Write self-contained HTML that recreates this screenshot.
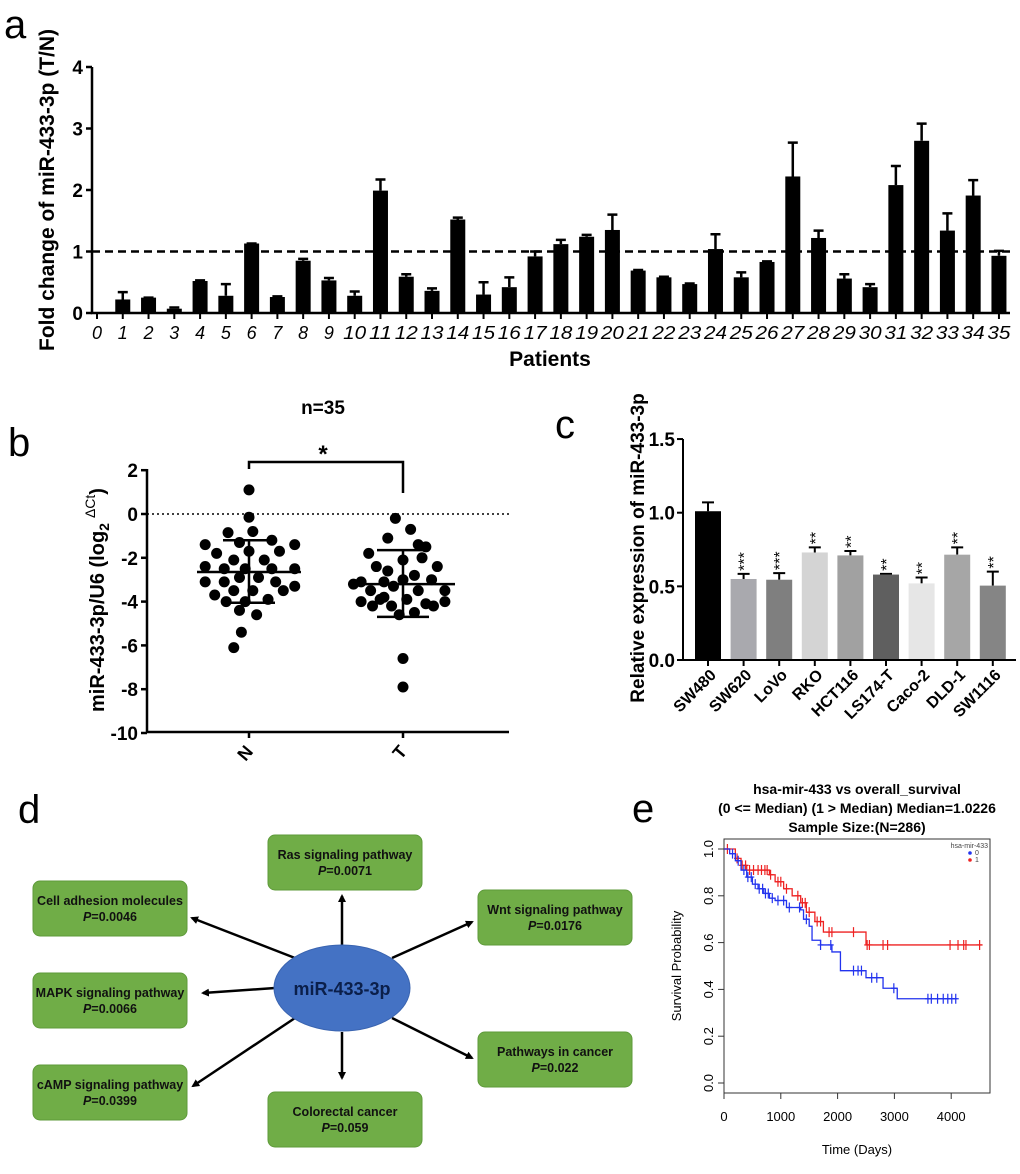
<!DOCTYPE html>
<html><head><meta charset="utf-8"><style>
body{margin:0;background:#fff}
svg{display:block;font-family:"Liberation Sans",sans-serif}
</style></head><body>
<svg id="fig" width="1020" height="1174" viewBox="0 0 1020 1174">
<text x="4" y="38" font-size="40">a</text>
<text x="8" y="456" font-size="40">b</text>
<text x="555" y="438" font-size="40">c</text>
<text x="18" y="823" font-size="40">d</text>
<text x="632" y="822" font-size="40">e</text>
<g id="pa"></g>
<g id="pb"></g>
<g id="pc"></g>
<g id="pd"></g>
<g id="pe"></g>
</svg>
<script>
// Panel a data
const aPatients=[1,2,3,4,5,6,7,8,9,10,11,12,13,14,15,16,17,18,19,20,21,22,23,24,25,26,27,28,29,30,31,32,33,34,35];
const aValues=[0.22,0.25,0.07,0.52,0.28,1.13,0.26,0.85,0.53,0.28,1.99,0.59,0.36,1.52,0.30,0.42,0.92,1.12,1.24,1.35,0.69,0.58,0.47,1.04,0.58,0.83,2.22,1.22,0.56,0.42,2.08,2.80,1.34,1.91,0.93];
const aErrTop=[0.34,0.25,0.09,0.53,0.47,1.13,0.27,0.88,0.57,0.35,2.17,0.63,0.40,1.55,0.50,0.58,1.00,1.19,1.27,1.60,0.70,0.59,0.48,1.28,0.66,0.84,2.77,1.34,0.63,0.47,2.39,3.08,1.62,2.16,1.01];
const aYTicks=[0,1,2,3,4];
// Panel b data
const bNvals=[1.1,-0.15,-0.85,-0.8,-1.4,-1.3,-1.2,-1.4,-1.8,-1.7,-1.7,-2.1,-2.1,-2.4,-2.5,-2.5,-2.5,-2.5,-2.9,-2.9,-3.1,-3.1,-3.1,-3.3,-3.5,-3.5,-3.5,-4.0,-4.0,-3.9,-4.4,-4.6,-5.4,-6.1,-3.7];
const bNjit=[0,0,-22,4,-46,-10,24,48,-34,0,32,-16,16,-46,-26,-4,24,48,-10,10,-46,-26,28,48,-16,4,36,-24,-4,20,-10,8,-8,-16,-36];
const bTvals=[-0.2,-0.7,-1.1,-1.4,-1.5,-1.8,-2.1,-2.4,-2.4,-2.6,-2.8,-3.1,-3.1,-3.0,-3.0,-3.5,-3.3,-3.5,-3.5,-4.0,-3.8,-3.9,-4.1,-4.0,-4.2,-4.2,-4.5,-4.2,-4.6,-6.6,-7.9,-3.9,-3.2,-2.0];
const bTjit=[-8,8,-16,16,24,-36,0,-28,36,-16,12,-44,-20,0,30,-34,-10,16,44,-44,-20,4,24,44,-32,-12,12,32,-4,0,0,-24,-52,20];
const bStats=[{mean:-2.65,hi:-1.2,lo:-4.05},{mean:-3.2,hi:-1.65,lo:-4.7}];
const bYTicks=[2,0,-2,-4,-6,-8,-10];
// Panel c data
const cLines=["SW480","SW620","LoVo","RKO","HCT116","LS174-T","Caco-2","DLD-1","SW1116"];
const cValues=[1.01,0.55,0.545,0.73,0.71,0.58,0.52,0.715,0.505];
const cErrTop=[1.07,0.585,0.59,0.765,0.74,0.585,0.56,0.765,0.60];
const cStars=["","***","***","**","**","**","**","**","**"];
const cYTicks=["0.0","0.5","1.0","1.5"];
// Panel e data
const eBlueT=[0,100,200,300,400,500,600,700,800,900,1100,1350,1400,1500,1550,1700,1900,2050,2500,2800,3050,4100];
const eBlueS=[1,0.98,0.95,0.91,0.88,0.85,0.83,0.81,0.79,0.78,0.75,0.74,0.70,0.67,0.61,0.59,0.56,0.48,0.45,0.405,0.36,0.36];
const eRedT=[0,200,300,400,800,900,1050,1200,1350,1450,1600,1750,2500,4550];
const eRedS=[1,0.96,0.93,0.91,0.89,0.86,0.83,0.80,0.77,0.73,0.69,0.645,0.59,0.59];
const eBlueCens=[150,250,350,420,480,550,620,680,730,780,850,950,1050,1150,1330,1450,1700,1880,2280,2360,2420,2600,2690,2990,3590,3650,3760,3860,3940,4010,4080];
const eRedCens=[60,230,320,380,450,520,600,660,720,760,820,950,1000,1100,1300,1380,1430,1500,1640,1700,1850,1900,2280,2520,2560,2800,2880,3980,4120,4220,4260,4500];
const eXTicks=[0,1000,2000,3000,4000];
const eYTicks=["0.0","0.2","0.4","0.6","0.8","1.0"];

const NS="http://www.w3.org/2000/svg";
function mk(parent,tag,attrs,txt){const e=document.createElementNS(NS,tag);for(const k in attrs)e.setAttribute(k,attrs[k]);if(txt!==undefined)e.textContent=txt;parent.appendChild(e);return e;}

// ---------- Panel a ----------
(function(){
const g=document.getElementById('pa');
const x0=97,dx=25.77,yA=v=>313-v*61.5;
const ax=mk(g,'path',{d:'M92,67 V313 H1010',stroke:'#000','stroke-width':2.5,fill:'none'});


aYTicks.forEach(t=>{
 const l=mk(g,'line',{x1:86,x2:92,y1:yA(t),y2:yA(t),stroke:'#000','stroke-width':2.5});
 
 
 const tx=mk(g,'text',{x:83,y:yA(t)+7,'font-size':19,'font-weight':'bold','text-anchor':'end'},t);
 
 
});
for(let i=0;i<=35;i++){
 const x=x0+dx*i;
 const l=mk(g,'line',{x1:x,x2:x,y1:313,y2:319,stroke:'#000','stroke-width':2});
 
 
 const tx=mk(g,'text',{x:x,y:339,'font-size':18,'font-style':'italic','text-anchor':'middle',textLength:i>9?23:10,lengthAdjust:'spacingAndGlyphs'},String(i));
 
 
}
aPatients.forEach((p,i)=>{
 const x=x0+dx*p;
 const e=mk(g,'path',{d:`M${x},${yA(aValues[i])} V${yA(aErrTop[i])} M${x-5},${yA(aErrTop[i])} H${x+5}`,stroke:'#000','stroke-width':2.5,fill:'none'});
 
 
 const b=mk(g,'rect',{x:x-7.5,y:yA(aValues[i]),width:15,height:313-yA(aValues[i]),fill:'#000'});
 
 
});
const d=mk(g,'line',{x1:92,x2:1010,y1:yA(1),y2:yA(1),stroke:'#000','stroke-width':2.5,'stroke-dasharray':'8,5'});


const yl=mk(g,'text',{transform:'translate(54,190) rotate(-90)','font-size':21,'font-weight':'bold','text-anchor':'middle'},'Fold change of miR-433-3p (T/N)');


const xl=mk(g,'text',{x:550,y:366,'font-size':21,'font-weight':'bold','text-anchor':'middle'},'Patients');


})();

// ---------- Panel b ----------
(function(){
const g=document.getElementById('pb');
const yB=v=>514-v*21.9, cx=[249,403];
const ax=mk(g,'path',{d:'M147,469 V732 H509',stroke:'#000','stroke-width':2.5,fill:'none'});


bYTicks.forEach(t=>{
 const l=mk(g,'line',{x1:141,x2:147,y1:yB(t),y2:yB(t),stroke:'#000','stroke-width':2.5});
 
 
 const tx=mk(g,'text',{x:138,y:yB(t)+7,'font-size':19,'font-weight':'bold','text-anchor':'end'},String(t));
 
 
});
const z=mk(g,'line',{x1:147,x2:509,y1:yB(0),y2:yB(0),stroke:'#000','stroke-width':1.5,'stroke-dasharray':'2,3'});


[['N',bNvals,bNjit],['T',bTvals,bTjit]].forEach(([lab,vals,jit],k)=>{
 vals.forEach((v,i)=>{
  const c=mk(g,'ellipse',{cx:cx[k]+jit[i]/1.05,cy:yB(v),rx:5.5,ry:5.5,fill:'#000'});
  
  
 });
 const s=bStats[k];
 const m=mk(g,'path',{d:`M${cx[k]-52},${yB(s.mean)} H${cx[k]+52} M${cx[k]},${yB(s.hi)} V${yB(s.lo)} M${cx[k]-26},${yB(s.hi)} H${cx[k]+26} M${cx[k]-26},${yB(s.lo)} H${cx[k]+26}`,stroke:'#000','stroke-width':2.5,fill:'none'});
 
 
 const tk=mk(g,'line',{x1:cx[k],x2:cx[k],y1:732,y2:738,stroke:'#000','stroke-width':2.5});
 
 
 const tl=mk(g,'text',{transform:`translate(${cx[k]+5},${752}) rotate(-50)`,'font-size':18,'font-weight':'bold','text-anchor':'end'},lab);
 
 
});
const br=mk(g,'path',{d:'M249,469 V462 H403 V493',stroke:'#000','stroke-width':2.5,fill:'none'});


const st=mk(g,'text',{x:323,y:462,'font-size':24,'font-weight':'bold','text-anchor':'middle'},'*');


const tt=mk(g,'text',{x:323,y:414,'font-size':19,'font-weight':'bold','text-anchor':'middle'},'n=35');


const yl=mk(g,'text',{transform:'translate(104,600) rotate(-90)','font-size':20,'font-weight':'bold','text-anchor':'middle'});


mk(yl,'tspan',{},'miR-433-3p/U6 (log');
mk(yl,'tspan',{'font-size':14,dy:5},'2');
mk(yl,'tspan',{'font-size':14,dy:-14,dx:5,'font-weight':'normal'},'\u0394Ct');
mk(yl,'tspan',{dy:9},')');
})();

// ---------- Panel c ----------
(function(){
const g=document.getElementById('pc');
const yC=v=>660-v*147.3, x0=708, dx=35.6;
const colors=['#000','#a9a9ae','#7f7f7f','#d4d4d4','#a1a1a1','#5f5f5f','#e6e6e6','#a6a6a6','#858585'];
cLines.forEach((n,i)=>{
 const x=x0+dx*i;
 const e=mk(g,'path',{d:`M${x},${yC(cValues[i])} V${yC(cErrTop[i])} M${x-6},${yC(cErrTop[i])} H${x+6}`,stroke:'#000','stroke-width':2,fill:'none'});
 
 
 const b=mk(g,'rect',{x:x-13,y:yC(cValues[i]),width:26,height:660-yC(cValues[i]),fill:colors[i]});
 
 
 if(cStars[i]){
  const s=mk(g,'text',{transform:`translate(${x+6},${yC(cErrTop[i])-3}) rotate(-90)`,'font-size':16,'letter-spacing':'0'},cStars[i]);
  
  
 }
 const tk=mk(g,'line',{x1:x,x2:x,y1:660,y2:666,stroke:'#000','stroke-width':2});
 
 
 const tl=mk(g,'text',{transform:`translate(${x+9},${676}) rotate(-45)`,'font-size':16,'font-weight':'bold','text-anchor':'end'},n);
 
 
});
const ax=mk(g,'path',{d:'M683,439 V660 H1016',stroke:'#000','stroke-width':2,fill:'none'});


cYTicks.forEach(t=>{
 const v=parseFloat(t);
 const l=mk(g,'line',{x1:677,x2:683,y1:yC(v),y2:yC(v),stroke:'#000','stroke-width':2});
 
 
 const tx=mk(g,'text',{x:675,y:yC(v)+7,'font-size':19,'font-weight':'bold','text-anchor':'end'},t);
 
 
});
const yl=mk(g,'text',{transform:'translate(644,548) rotate(-90)','font-size':19,'font-weight':'bold','text-anchor':'middle'},'Relative expression of miR-433-3p');


})();

// ---------- Panel d ----------
(function(){
const g=document.getElementById('pd');
const defs=mk(g,'defs',{});
const mkr=mk(defs,'marker',{id:'arr',markerWidth:8,markerHeight:8,refX:6,refY:4,orient:'auto',markerUnits:'userSpaceOnUse'});
mk(mkr,'path',{d:'M0,0 L8,4 L0,8 Z',fill:'#000'});
const arrows=[[342,945,342,896],[295,958,192,918],[392,958,472,922],[275,988,203,993],[392,1018,472,1058],[295,1018,193,1086],[342,1032,342,1078]];
arrows.forEach(a=>{
 const l=mk(g,'line',{x1:a[0],y1:a[1],x2:a[2],y2:a[3],stroke:'#000','stroke-width':2.5,'marker-end':'url(#arr)'});
 
 
});
const boxes=[[268,835,'Ras signaling pathway','0.0071'],[33,881,'Cell adhesion molecules','0.0046'],[478,890,'Wnt signaling pathway','0.0176'],[33,973,'MAPK signaling pathway','0.0066'],[478,1032,'Pathways in cancer','0.022'],[33,1065,'cAMP signaling pathway','0.0399'],[268,1092,'Colorectal cancer','0.059']];
boxes.forEach(b=>{
 const r=mk(g,'rect',{x:b[0],y:b[1],width:154,height:55,rx:7,fill:'#70ad47',stroke:'#5e9a3a','stroke-width':1});
 
 
 const t=mk(g,'text',{x:b[0]+77,y:b[1]+24,'font-size':12.5,'font-weight':'bold','text-anchor':'middle',fill:'#111'},b[2]);
 
 
 const p=mk(g,'text',{x:b[0]+77,y:b[1]+40,'font-size':12.5,'font-weight':'bold','text-anchor':'middle',fill:'#111'});
 
 
 mk(p,'tspan',{'font-style':'italic'},'P');
 mk(p,'tspan',{},'='+b[3]);
});
const el=mk(g,'ellipse',{cx:342,cy:988,rx:68,ry:43,fill:'#4472c4',stroke:'#3a64b0'});


const et=mk(g,'text',{x:342,y:995,'font-size':18,'font-weight':'bold','text-anchor':'middle',fill:'#0b1f4a'},'miR-433-3p');


})();

// ---------- Panel e ----------
(function(){
const g=document.getElementById('pe');
const xE=t=>724+t*0.0568, yE=s=>1083-s*234;
['hsa-mir-433 vs overall_survival','(0 <= Median) (1 > Median) Median=1.0226','Sample Size:(N=286)'].forEach((s,i)=>{
 const t=mk(g,'text',{x:857,y:794+i*19,'font-size':14,'font-weight':'bold','text-anchor':'middle'},s);
 
 
});
const box=mk(g,'rect',{x:724,y:839,width:266,height:254,fill:'none',stroke:'#333','stroke-width':1});


eXTicks.forEach(t=>{
 const l=mk(g,'line',{x1:xE(t),x2:xE(t),y1:1093,y2:1099,stroke:'#333'});
 
 
 const tx=mk(g,'text',{x:xE(t),y:1121,'font-size':13,'text-anchor':'middle'},String(t));
 
 
});
eYTicks.forEach(t=>{
 const v=parseFloat(t);
 const l=mk(g,'line',{x1:718,x2:724,y1:yE(v),y2:yE(v),stroke:'#333'});
 
 
 const tx=mk(g,'text',{transform:`translate(713,${yE(v)}) rotate(-90)`,'font-size':13,'text-anchor':'middle'},t);
 
 
});
const xl=mk(g,'text',{x:857,y:1154,'font-size':13,'text-anchor':'middle'},'Time (Days)');


const yl=mk(g,'text',{transform:'translate(681,966) rotate(-90)','font-size':13,'text-anchor':'middle'},'Survival Probability');


function step(T,S){let d=`M${xE(T[0])},${yE(S[0])}`;for(let i=1;i<T.length;i++){d+=` H${xE(T[i])} V${yE(S[i])}`;}return d;}
function survAt(T,S,t){let s=S[0];for(let i=0;i<T.length;i++){if(T[i]<=t)s=S[i];}return s;}
[[eRedT,eRedS,eRedCens,'#ee2222','red'],[eBlueT,eBlueS,eBlueCens,'#2233ee','blue']].forEach(([T,S,C,col,nm])=>{
 const p=mk(g,'path',{d:step(T,S),stroke:col,'stroke-width':1.3,fill:'none'});
 
 
 C.forEach(c=>{
  const x=xE(c),y=yE(survAt(T,S,c));
  const m=mk(g,'path',{d:`M${x},${y-5} V${y+5} M${x-3},${y} H${x+3}`,stroke:col,'stroke-width':1.2});
  
  
 });
});
const lt=mk(g,'text',{x:988,y:848,'font-size':7,'text-anchor':'end',fill:'#444'},'hsa-mir-433');


[['0','#2233ee',855],['1','#ee2222',862]].forEach(([l,c,y])=>{
 const d=mk(g,'circle',{cx:970,cy:y-2,r:1.8,fill:c});
 
 
 const t=mk(g,'text',{x:975,y:y,'font-size':7,fill:'#444'},l);
 
 
});
})();
</script>
</body></html>
